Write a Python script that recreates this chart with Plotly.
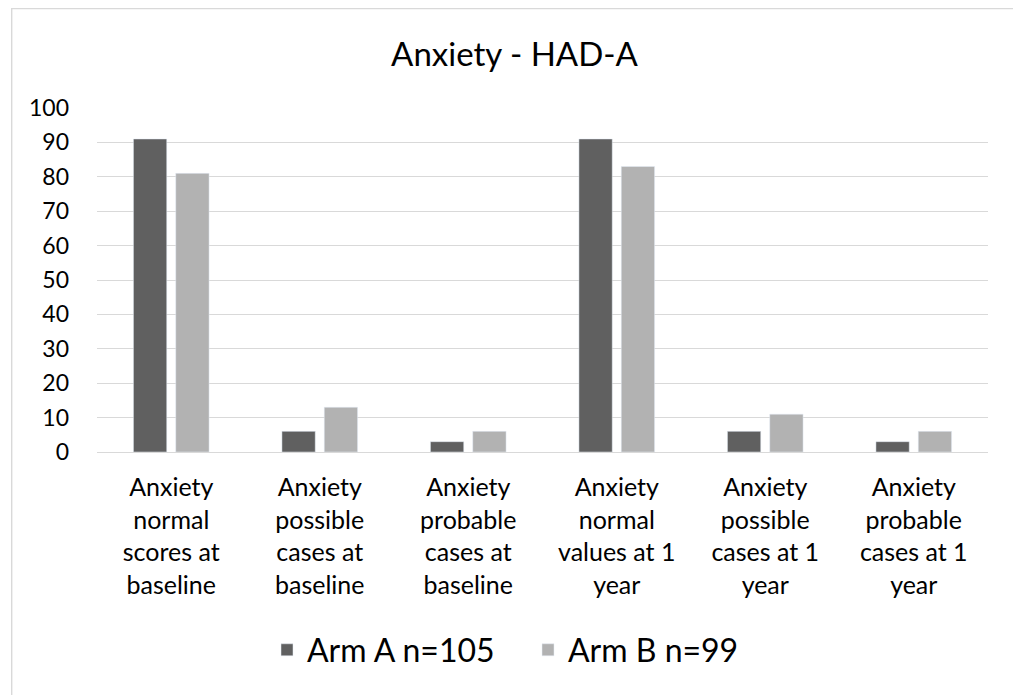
import plotly.graph_objects as go

categories = [
    "Anxiety<br>normal<br>scores at<br>baseline",
    "Anxiety<br>possible<br>cases at<br>baseline",
    "Anxiety<br>probable<br>cases at<br>baseline",
    "Anxiety<br>normal<br>values at 1<br>year",
    "Anxiety<br>possible<br>cases at 1<br>year",
    "Anxiety<br>probable<br>cases at 1<br>year",
]
arm_a = [91, 6, 3, 91, 6, 3]
arm_b = [81, 13, 6, 83, 11, 6]
series_names = ["Arm A n=105", "Arm B n=99"]
y_ticks = [0, 10, 20, 30, 40, 50, 60, 70, 80, 90, 100]

FONT = "Lato, 'Open Sans', sans-serif"
# the page body has an 8px margin, so the figure is drawn 8px in from the window corner
W, H = 1013, 687
L, R, T, B = 89, 33, 100, 243
pw, ph = W - L - R, H - T - B

fig = go.Figure()
fig.add_trace(go.Bar(x=categories, y=arm_a, name=series_names[0], marker_color="#606060"))
fig.add_trace(go.Bar(x=categories, y=arm_b, name=series_names[1], marker_color="#b2b2b2"))

def px2paper_x(px):
    return (px - L) / pw

def px2paper_y(py):
    return (H - B - py) / ph

fig.update_layout(
    width=W, height=H,
    margin=dict(l=L, r=R, t=T, b=B),
    paper_bgcolor="white", plot_bgcolor="white",
    font=dict(family=FONT, color="#000000"),
    title=dict(text="Anxiety - HAD-A", x=0.5, xanchor="center", y=1 - 46 / H, yanchor="middle",
               font=dict(size=33, color="#000000", family=FONT)),
    barmode="group", bargap=0.43, bargroupgap=0.213,
    showlegend=True,
    legend=dict(orientation="h", x=px2paper_x(259), xanchor="left", y=px2paper_y(642), yanchor="middle",
                font=dict(size=32, color="#000000", family=FONT), itemwidth=30, tracegroupgap=0,
                entrywidth=216, entrywidthmode="pixels",
                bgcolor="rgba(0,0,0,0)"),
    xaxis=dict(showgrid=False, showline=False, ticks="", tickfont=dict(size=25, color="#000000"),
               ticklabelstandoff=18, tickangle=0),
    yaxis=dict(range=[0, 100], tickvals=y_ticks, showgrid=True, gridcolor="#d9d9d9", gridwidth=1.3,
               zeroline=True, zerolinecolor="#d9d9d9", zerolinewidth=1.3, showline=False,
               tickfont=dict(size=23, color="#000000"), ticklabelstandoff=27),
    shapes=[dict(type="rect", xref="paper", yref="paper",
                 x0=px2paper_x(3.7), x1=px2paper_x(1009.3), y0=px2paper_y(720), y1=px2paper_y(0.5),
                 line=dict(color="#d9d9d9", width=1.4), fillcolor="rgba(0,0,0,0)", layer="below")],
)

fig.write_html("out.html")
